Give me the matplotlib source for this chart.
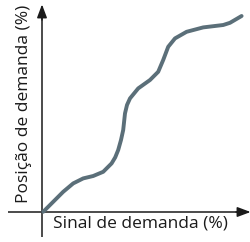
import matplotlib
matplotlib.use("Agg")
import matplotlib.pyplot as plt

# curva (sinal %, posição %)
sinal = [0.6, 5.6, 10.6, 15.6, 20.6, 25.6, 30.6, 34.8, 36.6, 38.1, 39.5, 40.6,
         41.5, 42.5, 44.0, 48.1, 54.0, 58.1, 60.6, 63.1, 66.5, 72.3, 80.6,
         90.6, 94.0, 99.8]
posicao = [0.1, 5.1, 10.1, 14.3, 16.8, 18.0, 20.1, 24.3, 27.3, 31.0, 36.0, 41.0,
           49.3, 53.5, 56.8, 61.8, 66.0, 70.1, 76.0, 82.6, 86.8, 90.1, 92.3,
           93.5, 94.6, 98.0]

xlabel = "Sinal de demanda (%)"
ylabel = "Posição de demanda (%)"

plt.rcParams['font.family'] = ['Open Sans', 'DejaVu Sans']

fig = plt.figure(figsize=(2.51, 2.42), dpi=100)
ax = fig.add_axes([0, 0, 1, 1])
ax.set_xlim(-21, 104.5)
ax.set_ylim(-15, 106)
ax.axis("off")

# eixos com setas
ax.plot([-17, 102], [0, 0], color="#1a1a1a", lw=1.1, solid_capstyle="butt")
ax.plot([0, 0], [-12.5, 101], color="#1a1a1a", lw=1.1, solid_capstyle="butt")
ax.annotate("", xy=(104.3, 0), xytext=(97, 0),
            arrowprops=dict(arrowstyle="-|>,head_length=0.8,head_width=0.3",
                            color="#1a1a1a", lw=1.1, shrinkA=0, shrinkB=0))
ax.annotate("", xy=(0, 103.8), xytext=(0, 96),
            arrowprops=dict(arrowstyle="-|>,head_length=0.8,head_width=0.3",
                            color="#1a1a1a", lw=1.1, shrinkA=0, shrinkB=0))

ax.plot(sinal, posicao, color="#5b6f79", lw=2.8, solid_capstyle="round",
        solid_joinstyle="round")

ax.text(49.3, -5.8, xlabel, fontsize=12.5, ha="center", va="center", color="#1a1a1a")
ax.text(-9.2, 54, ylabel, fontsize=12.5, ha="center", va="center",
        rotation=90, color="#1a1a1a")

fig.savefig("out.png", dpi=100)
